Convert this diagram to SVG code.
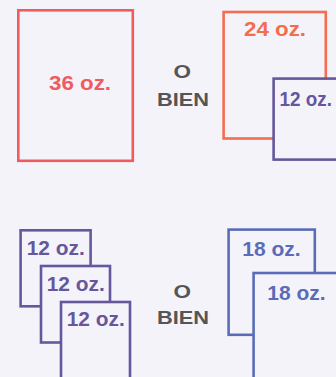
<svg xmlns="http://www.w3.org/2000/svg" width="336" height="377" viewBox="0 0 336 377">
<style>
.bg{fill:#f4f3f9}
.box{fill:#f4f3f9;stroke-width:2.6}
.red{stroke:#f05c5e}
.ora{stroke:#f36d4f}
.pur{stroke:#66579c}
.blu{stroke:#5a6cb7}
.lbl{font-family:"Liberation Sans",Arial,sans-serif;font-weight:bold;font-size:21px}
.or{font-family:"Liberation Sans",Arial,sans-serif;font-weight:bold;font-size:19px;fill:#555557}
</style>
<rect class="bg" x="0" y="0" width="336" height="377"/>
<g id="box36">
<rect class="box red" x="18.3" y="10.3" width="114.5" height="150.5"/>
<text class="lbl" x="49" y="90.3" fill="#f05c5e" textLength="62" lengthAdjust="spacingAndGlyphs">36 oz.</text>
</g>
<g id="or1">
<text class="or" x="173.5" y="77.5" textLength="17.5" lengthAdjust="spacingAndGlyphs">O</text>
<text class="or" x="157" y="105.7" textLength="52" lengthAdjust="spacingAndGlyphs">BIEN</text>
</g>
<g id="box24">
<rect class="box ora" x="223.6" y="12" width="102.2" height="126.5"/>
<text class="lbl" x="244" y="35.7" fill="#f36d4f" textLength="62" lengthAdjust="spacingAndGlyphs">24 oz.</text>
</g>
<g id="box12a">
<rect class="box pur" x="273.6" y="78.6" width="80" height="81"/>
<text class="lbl" x="279.5" y="105.7" fill="#66579c" font-size="20" textLength="52.5" lengthAdjust="spacingAndGlyphs">12 oz.</text>
</g>
<g id="box12b">
<rect class="box pur" x="20.6" y="230.3" width="70" height="76"/>
<text class="lbl" x="26.7" y="255" fill="#66579c" textLength="58" lengthAdjust="spacingAndGlyphs">12 oz.</text>
</g>
<g id="box12c">
<rect class="box pur" x="41" y="266" width="69" height="76.5"/>
<text class="lbl" x="46.7" y="290.7" fill="#66579c" textLength="58" lengthAdjust="spacingAndGlyphs">12 oz.</text>
</g>
<g id="box12d">
<rect class="box pur" x="61" y="302" width="69" height="100"/>
<text class="lbl" x="66.7" y="326.3" fill="#66579c" textLength="58" lengthAdjust="spacingAndGlyphs">12 oz.</text>
</g>
<g id="or2">
<text class="or" x="173.5" y="297.5" textLength="17.5" lengthAdjust="spacingAndGlyphs">O</text>
<text class="or" x="157" y="324" textLength="52" lengthAdjust="spacingAndGlyphs">BIEN</text>
</g>
<g id="box18a">
<rect class="box blu" x="228.6" y="229.6" width="86.2" height="105.2"/>
<text class="lbl" x="242.3" y="256" fill="#5a6cb7" textLength="58.4" lengthAdjust="spacingAndGlyphs">18 oz.</text>
</g>
<g id="box18b">
<rect class="box blu" x="253.6" y="273" width="100" height="120"/>
<text class="lbl" x="267.3" y="300" fill="#5a6cb7" textLength="58.4" lengthAdjust="spacingAndGlyphs">18 oz.</text>
</g>
<g id="connectors"/>
</svg>
